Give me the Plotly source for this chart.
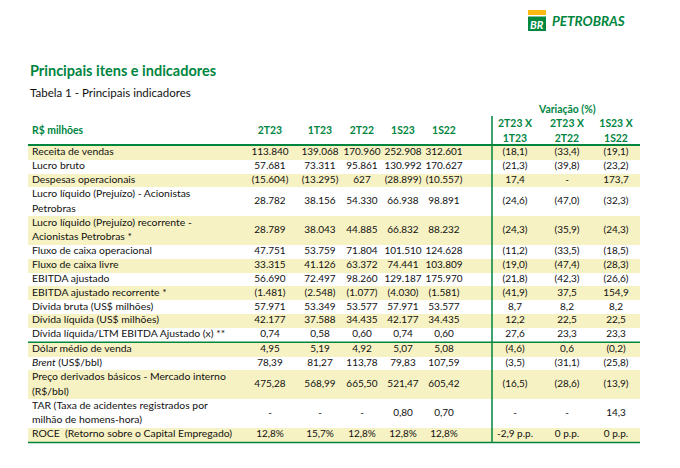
import plotly.graph_objects as go

# ---------------- data ----------------
col_headers = ["2T23", "1T23", "2T22", "1S23", "1S22",
               "2T23 X<br>1T23", "2T23 X<br>2T22", "1S23 X<br>1S22"]

labels = [
    "Receita de vendas",
    "Lucro bruto",
    "Despesas operacionais",
    "Lucro líquido (Prejuízo) - Acionistas<br>Petrobras",
    "Lucro líquido (Prejuízo) recorrente -<br>Acionistas Petrobras *",
    "Fluxo de caixa operacional",
    "Fluxo de caixa livre",
    "EBITDA ajustado",
    "EBITDA ajustado recorrente *",
    "Dívida bruta (US$ milhões)",
    "Dívida líquida (US$ milhões)",
    "Dívida líquida/LTM EBITDA Ajustado (x) **",
    "Dólar médio de venda",
    "<i>Brent</i> (US$/bbl)",
    "Preço derivados básicos - Mercado interno<br>(R$/bbl)",
    "TAR (Taxa de acidentes registrados por<br>milhão de homens-hora)",
    "ROCE  (Retorno sobre o Capital Empregado)",
]

v_2T23 = ["113.840", "57.681", "(15.604)", "28.782", "28.789", "47.751", "33.315", "56.690",
          "(1.481)", "57.971", "42.177", "0,74", "4,95", "78,39", "475,28", "-", "12,8%"]
v_1T23 = ["139.068", "73.311", "(13.295)", "38.156", "38.043", "53.759", "41.126", "72.497",
          "(2.548)", "53.349", "37.588", "0,58", "5,19", "81,27", "568,99", "-", "15,7%"]
v_2T22 = ["170.960", "95.861", "627", "54.330", "44.885", "71.804", "63.372", "98.260",
          "(1.077)", "53.577", "34.435", "0,60", "4,92", "113,78", "665,50", "-", "12,8%"]
v_1S23 = ["252.908", "130.992", "(28.899)", "66.938", "66.832", "101.510", "74.441", "129.187",
          "(4.030)", "57.971", "42.177", "0,74", "5,07", "79,83", "521,47", "0,80", "12,8%"]
v_1S22 = ["312.601", "170.627", "(10.557)", "98.891", "88.232", "124.628", "103.809", "175.970",
          "(1.581)", "53.577", "34.435", "0,60", "5,08", "107,59", "605,42", "0,70", "12,8%"]
var_2T23_1T23 = ["(18,1)", "(21,3)", "17,4", "(24,6)", "(24,3)", "(11,2)", "(19,0)", "(21,8)",
                 "(41,9)", "8,7", "12,2", "27,6", "(4,6)", "(3,5)", "(16,5)", "-", "-2,9 p.p."]
var_2T23_2T22 = ["(33,4)", "(39,8)", "-", "(47,0)", "(35,9)", "(33,5)", "(47,4)", "(42,3)",
                 "37,5", "8,2", "22,5", "23,3", "0,6", "(31,1)", "(28,6)", "-", "0 p.p."]
var_1S23_1S22 = ["(19,1)", "(23,2)", "173,7", "(32,3)", "(24,3)", "(18,5)", "(28,3)", "(26,6)",
                 "154,9", "8,2", "22,5", "23,3", "(0,2)", "(25,8)", "(13,9)", "14,3", "0 p.p."]

columns = [v_2T23, v_1T23, v_2T22, v_1S23, v_1S22, var_2T23_1T23, var_2T23_2T22, var_1S23_1S22]
group_break_after = 11  # row index after which the green separator line is drawn

# ---------------- layout / style ----------------
PAGE_W, PAGE_H = 680, 468
OFF = 8  # default body margin of the html page
GREEN = "#00853F"
BAND = "#F7F2C3"
TXT = "#111111"
FONT = "Lato"
FS = 10.4
NFS = 10.0
LINE_GAP = 14.6
col_x = [270, 320, 362, 403, 444, 515, 567, 616]
label_x = 32
table_left, table_right = 28, 640
top = 146
single_h, double_h = 13.8, 28.8

# row geometry derived from label line counts
centers, heights = [], []
y = top
for i, lab in enumerate(labels):
    h = double_h if "<br>" in lab else single_h
    centers.append(y + h / 2)
    heights.append(h)
    y += h
    if i == group_break_after:
        sep_y = y + 0.6
        y += 1.2
bottom_y = y + 0.6

# split multi-line labels into individual lines
lab_y, lab_t = [], []
for c, lab in zip(centers, labels):
    parts = lab.split("<br>")
    n = len(parts)
    for k, p in enumerate(parts):
        lab_y.append(c + (k - (n - 1) / 2) * LINE_GAP)
        lab_t.append(p)

fig = go.Figure()

# highlight bands (every other row)
band_idx = [i for i in range(len(labels)) if i % 2 == 0]
fig.add_trace(go.Bar(
    orientation="h",
    y=[centers[i] for i in band_idx],
    x=[table_right - table_left] * len(band_idx),
    base=table_left,
    width=[heights[i] for i in band_idx],
    marker=dict(color=BAND, line=dict(width=0)),
    hoverinfo="skip", showlegend=False,
))

# label column
fig.add_trace(go.Scatter(
    x=[label_x] * len(lab_t), y=lab_y, text=lab_t, mode="text",
    textposition="middle right",
    textfont=dict(family=FONT, size=FS, color=TXT),
    hoverinfo="skip", showlegend=False,
))

# value columns
for cx, vals in zip(col_x, columns):
    fig.add_trace(go.Scatter(
        x=[cx] * len(vals), y=centers, text=vals, mode="text",
        textposition="middle center",
        textfont=dict(family=FONT, size=NFS, color=TXT),
        hoverinfo="skip", showlegend=False,
    ))

# header row
hdr_y = 131
hx, hy, ht = [], [], []
for cx, h in zip(col_x, col_headers):
    parts = h.split("<br>")
    n = len(parts)
    for k, p in enumerate(parts):
        hx.append(cx)
        hy.append(hdr_y + (k - (n - 1) / 2) * 15.2 + (1.2 if n > 1 else 0))
        ht.append("<b>%s</b>" % p)
fig.add_trace(go.Scatter(
    x=[label_x], y=[hdr_y], text=["<b>R$ milhões</b>"], mode="text",
    textposition="middle right",
    textfont=dict(family=FONT, size=FS, color=GREEN),
    hoverinfo="skip", showlegend=False,
))
fig.add_trace(go.Scatter(
    x=hx, y=hy, text=ht, mode="text", textposition="middle center",
    textfont=dict(family=FONT, size=FS, color=GREEN),
    hoverinfo="skip", showlegend=False,
))

annotations = [
    dict(x=567, y=108.5, text="<b>Variação (%)</b>", showarrow=False, xanchor="center", yanchor="middle",
         font=dict(family=FONT, size=FS, color=GREEN)),
    dict(x=28, y=70, text="<b>Principais itens e indicadores</b>", showarrow=False,
         xanchor="left", yanchor="middle", font=dict(family=FONT, size=14.5, color=GREEN)),
    dict(x=28, y=92, text="Tabela 1 - Principais indicadores", showarrow=False,
         xanchor="left", yanchor="middle", font=dict(family=FONT, size=11.5, color=TXT)),
    dict(x=537, y=24, text="<b><i>BR</i></b>", showarrow=False, xanchor="center", yanchor="middle",
         font=dict(family=FONT, size=11, color="white")),
    dict(x=550, y=21, text="<b><i>PETROBRAS</i></b>", showarrow=False, xanchor="left", yanchor="middle",
         font=dict(family=FONT, size=13.5, color=GREEN)),
]

shapes = [
    dict(type="line", x0=table_left, x1=table_right, y0=top - 1, y1=top - 1,
         line=dict(color=GREEN, width=2)),
    dict(type="line", x0=table_left, x1=table_right, y0=sep_y, y1=sep_y,
         line=dict(color=GREEN, width=1.5)),
    dict(type="line", x0=table_left, x1=table_right, y0=bottom_y, y1=bottom_y,
         line=dict(color=GREEN, width=1.5)),
    dict(type="line", x0=492, x1=492, y0=116, y1=bottom_y,
         line=dict(color=GREEN, width=1.5)),
    dict(type="rect", x0=528, x1=546, y0=10, y1=15, fillcolor="#FDB913", line=dict(width=0)),
    dict(type="rect", x0=528, x1=546, y0=16.5, y1=31, fillcolor="#00883E", line=dict(width=0)),
]

fig.update_layout(
    width=PAGE_W - OFF, height=PAGE_H - OFF,
    margin=dict(l=0, r=0, t=0, b=0),
    paper_bgcolor="white", plot_bgcolor="white",
    xaxis=dict(range=[OFF, PAGE_W], visible=False, fixedrange=True),
    yaxis=dict(range=[PAGE_H, OFF], visible=False, fixedrange=True),
    bargap=0,
    shapes=shapes,
    annotations=annotations,
    hovermode=False,
)

fig.write_html("out.html")
